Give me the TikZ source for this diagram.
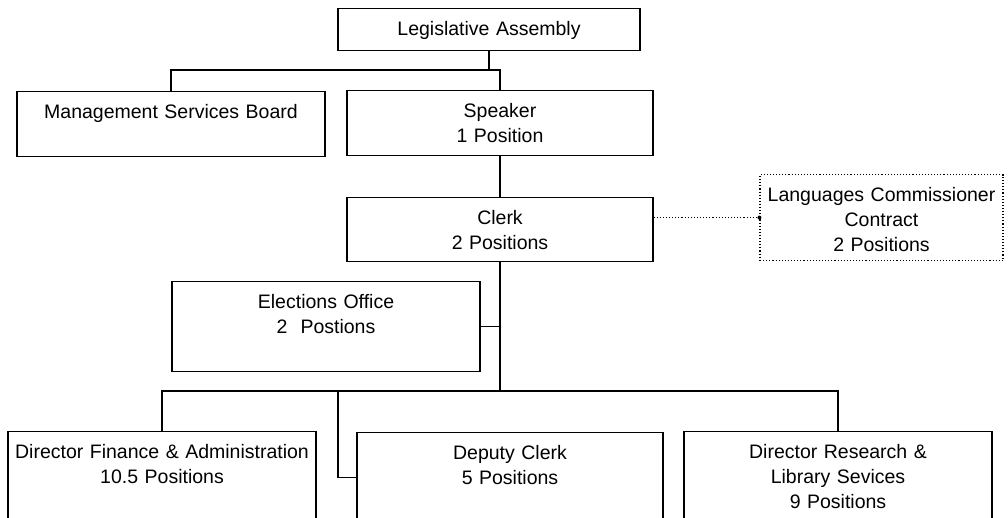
\documentclass[tikz,border=0pt]{standalone}
\usepackage{fontspec}
\setmainfont{Liberation Sans}
\usetikzlibrary{positioning}

\begin{document}
\begin{tikzpicture}
[x = 1pt, y = -1pt,
unit/.style = {rectangle, draw = black, line width = 1.1pt, align = center, anchor = north, inner sep = 0pt, text height = 27pt, font = \fontsize{19.5}{25}\selectfont},
outside/.style = {unit, dotted},
link/.style = {line width = 1.1pt},
liaison/.style = {dotted, line width = 1.1pt}]

\useasboundingbox (0, 0) rectangle (1008, 518);

\node[unit, text width = 302pt, text depth = 15pt] (assembly) at (489, 8) {Legislative Assembly};
\node[unit, text width = 308pt, text depth = 38pt] (board) at (171, 91) {Management Services Board};
\node[unit, text width = 306pt, text depth = 38pt] (speaker) at (500, 90) {Speaker\\1 Position};
\node[unit, text width = 306pt, text depth = 37pt] (clerk) [below = 41pt of speaker] {Clerk\\2 Positions};
\node[outside, text width = 243pt, text depth = 59pt] (languages) at (881.5, 174) {Languages Commissioner\\Contract\\2 Positions};
\node[unit, text width = 308pt, text depth = 63pt] (elections) at (326, 281) {Elections Office\\2\ \ Postions};
\node[unit, text width = 308pt, text depth = 63pt] (finance) at (162, 431) {Director Finance \& Administration\\10.5 Positions};
\node[unit, text width = 306pt, text depth = 62pt] (deputy) at (510, 432) {Deputy Clerk\\5 Positions};
\node[unit, text width = 308pt, text depth = 63pt] (research) at (838, 431) {Director Research \&\\Library Sevices\\9 Positions};

\coordinate (upper) at (489, 70);
\coordinate (lower) at (500, 391);
\coordinate (branch) at (338, 391);

\draw[link] (assembly) -- (upper);
\draw[link] (board.north) |- (upper) -| (speaker.north);
\draw[link] (speaker) -- (clerk);
\draw[liaison] (clerk.east |- languages.west) -- (languages.west);
\fill (languages.west) circle (2pt);
\draw[link] (clerk) -- (lower);
\draw[link] (elections.east) -- (elections.east -| lower);
\draw[link] (finance.north) |- (lower) -| (research.north);
\draw[link] (branch) |- (deputy.west);
\end{tikzpicture}
\end{document}
